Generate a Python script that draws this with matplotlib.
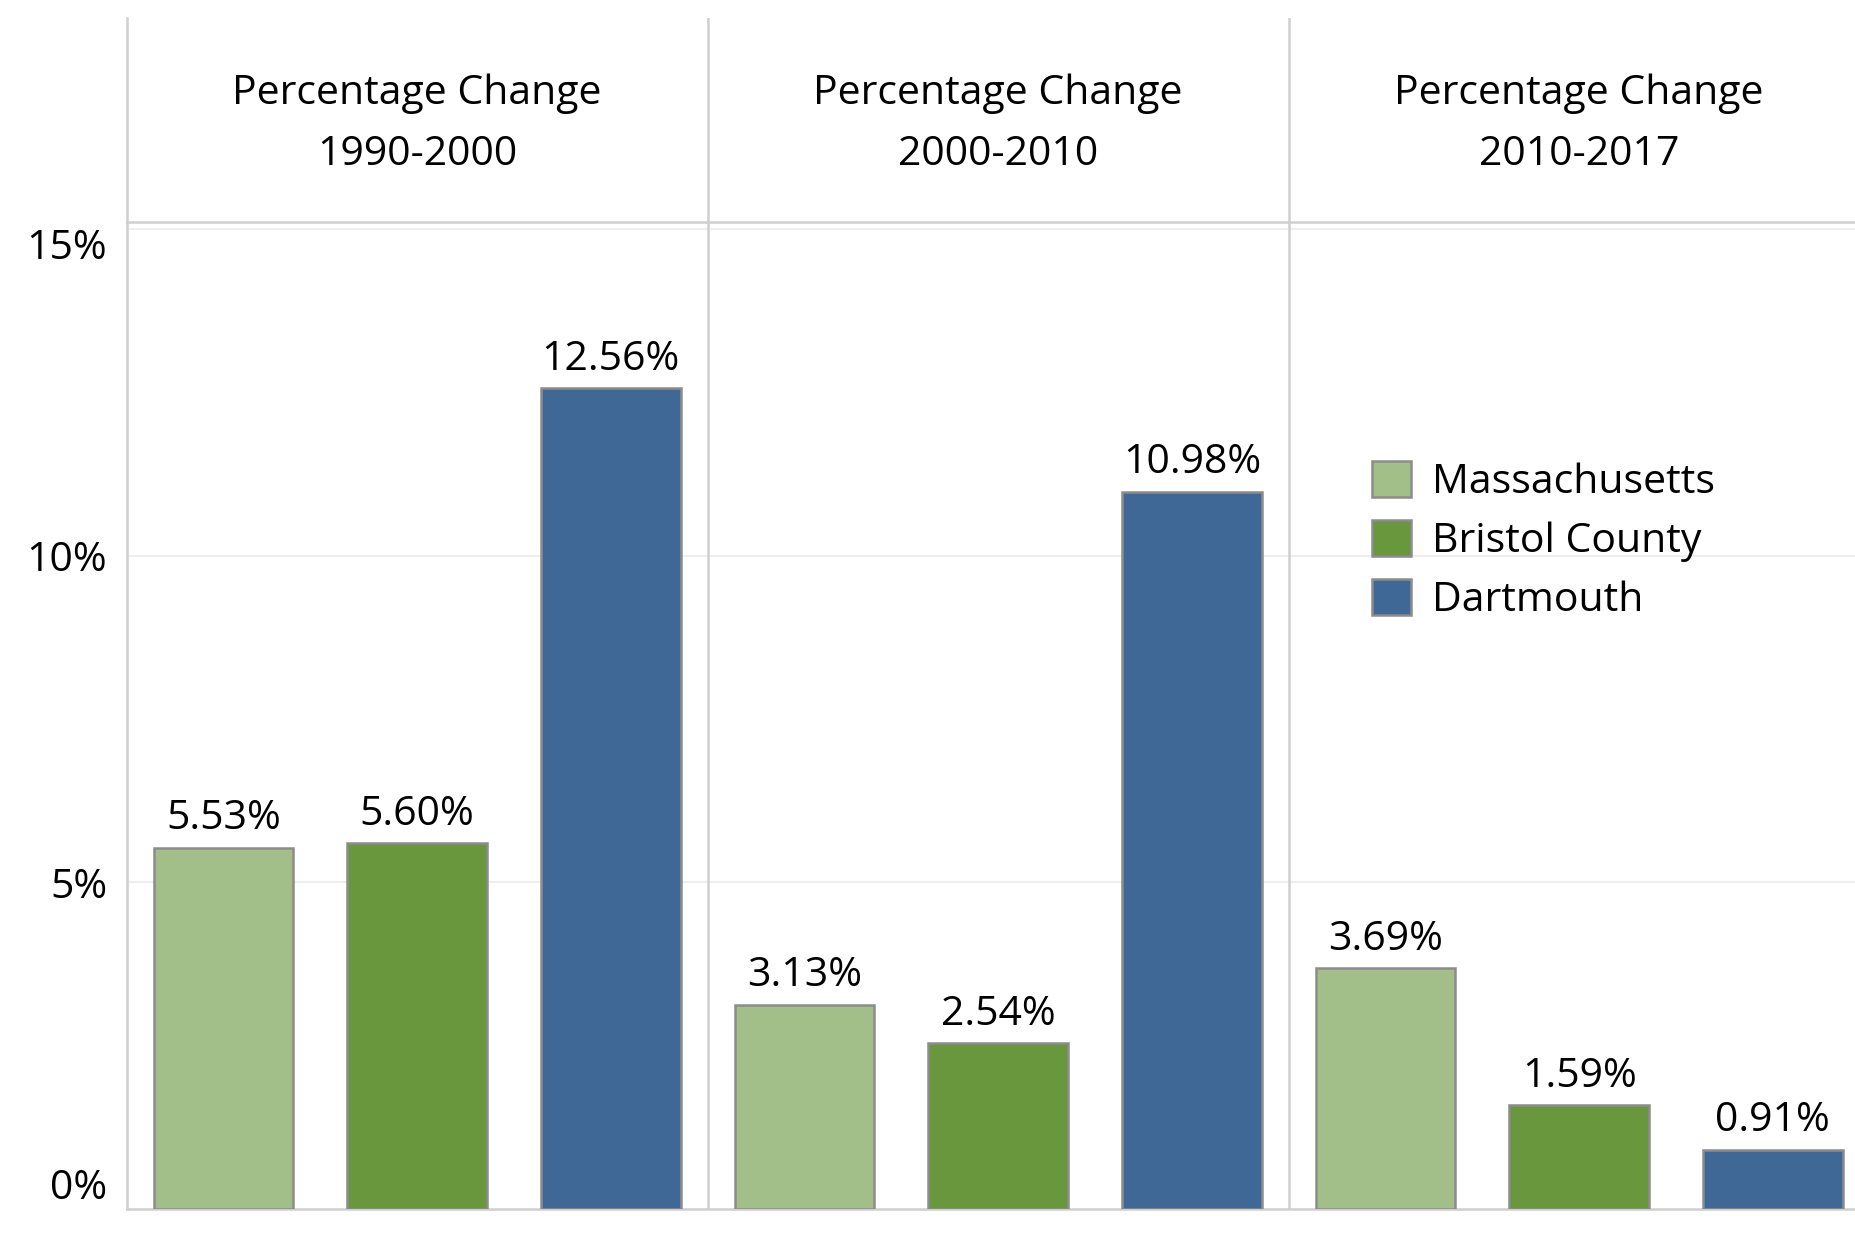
import matplotlib.pyplot as plt

periods = ['Percentage Change\n1990-2000', 'Percentage Change\n2000-2010', 'Percentage Change\n2010-2017']
places = ['Massachusetts', 'Bristol County', 'Dartmouth']
massachusetts = [5.53, 3.13, 3.69]
bristol = [5.60, 2.54, 1.59]
dartmouth = [12.56, 10.98, 0.91]
colors = ['#A2BF8A', '#68973E', '#3F6896']
yticks = [0, 5, 10, 15]

plt.rcParams['font.family'] = ['Open Sans', 'DejaVu Sans']
fs = 29.5
line_c = '#CFCFCF'
edge_c = '#8C8C8C'

fig = plt.figure(figsize=(18.55, 12.34), dpi=100)
left, bottom, top, head_bot = 0.0683, 0.0202, 0.9856, 0.8198
width = 0.9396

ax = fig.add_axes([left, bottom, width, head_bot - bottom])
hd = fig.add_axes([left, head_bot, width, top - head_bot])

series = [massachusetts, bristol, dartmouth]
for p in range(3):
    for s in range(3):
        x = p * 3 + s
        v = series[s][p]
        ax.bar(x, v, width=0.72, color=colors[s], edgecolor=edge_c, linewidth=1.8, zorder=3)
        ax.annotate(f'{v:.2f}%', (x, v), xytext=(0, 6), textcoords='offset points',
                    ha='center', va='bottom', fontsize=fs)

ax.set_xlim(-0.5, 8.5)
ax.set_ylim(0, 15.1)
ax.set_xticks([])
ax.set_yticks(yticks)
ax.set_yticklabels([f'{t}%' for t in yticks], fontsize=fs)
labs = ax.get_yticklabels()
labs[0].set_va('bottom')
labs[-1].set_va('top')
ax.tick_params(axis='y', length=0, pad=14)
for t in yticks[1:]:
    ax.axhline(t, color='#EEEEEE', linewidth=1.5, zorder=0)
for xv in [2.5, 5.5]:
    ax.axvline(xv, color=line_c, linewidth=1.8, zorder=1)
for sp in ['top', 'right']:
    ax.spines[sp].set_visible(False)
for sp in ['left', 'bottom']:
    ax.spines[sp].set_color(line_c)
    ax.spines[sp].set_linewidth(1.8)

# header panel
hd.set_xlim(-0.5, 8.5)
hd.set_ylim(0, 1)
hd.set_xticks([])
hd.set_yticks([])
for sp in ['top', 'right']:
    hd.spines[sp].set_visible(False)
for sp in ['left', 'bottom']:
    hd.spines[sp].set_color(line_c)
    hd.spines[sp].set_linewidth(1.8)
for xv in [2.5, 5.5]:
    hd.axvline(xv, color=line_c, linewidth=1.8)
for p, lab in enumerate(periods):
    hd.text(p * 3 + 1, 0.48, lab, ha='center', va='center', fontsize=fs, linespacing=1.65)

handles = [plt.Rectangle((0, 0), 1, 1, facecolor=c, edgecolor=edge_c, linewidth=1.8) for c in colors]
fig.legend(handles, places, loc='upper left', bbox_to_anchor=(0.720, 0.656), frameon=False,
           fontsize=fs, handlelength=0.95, handleheight=0.95, handletextpad=0.5, labelspacing=0.42)

fig.savefig('out.png', dpi=100)
